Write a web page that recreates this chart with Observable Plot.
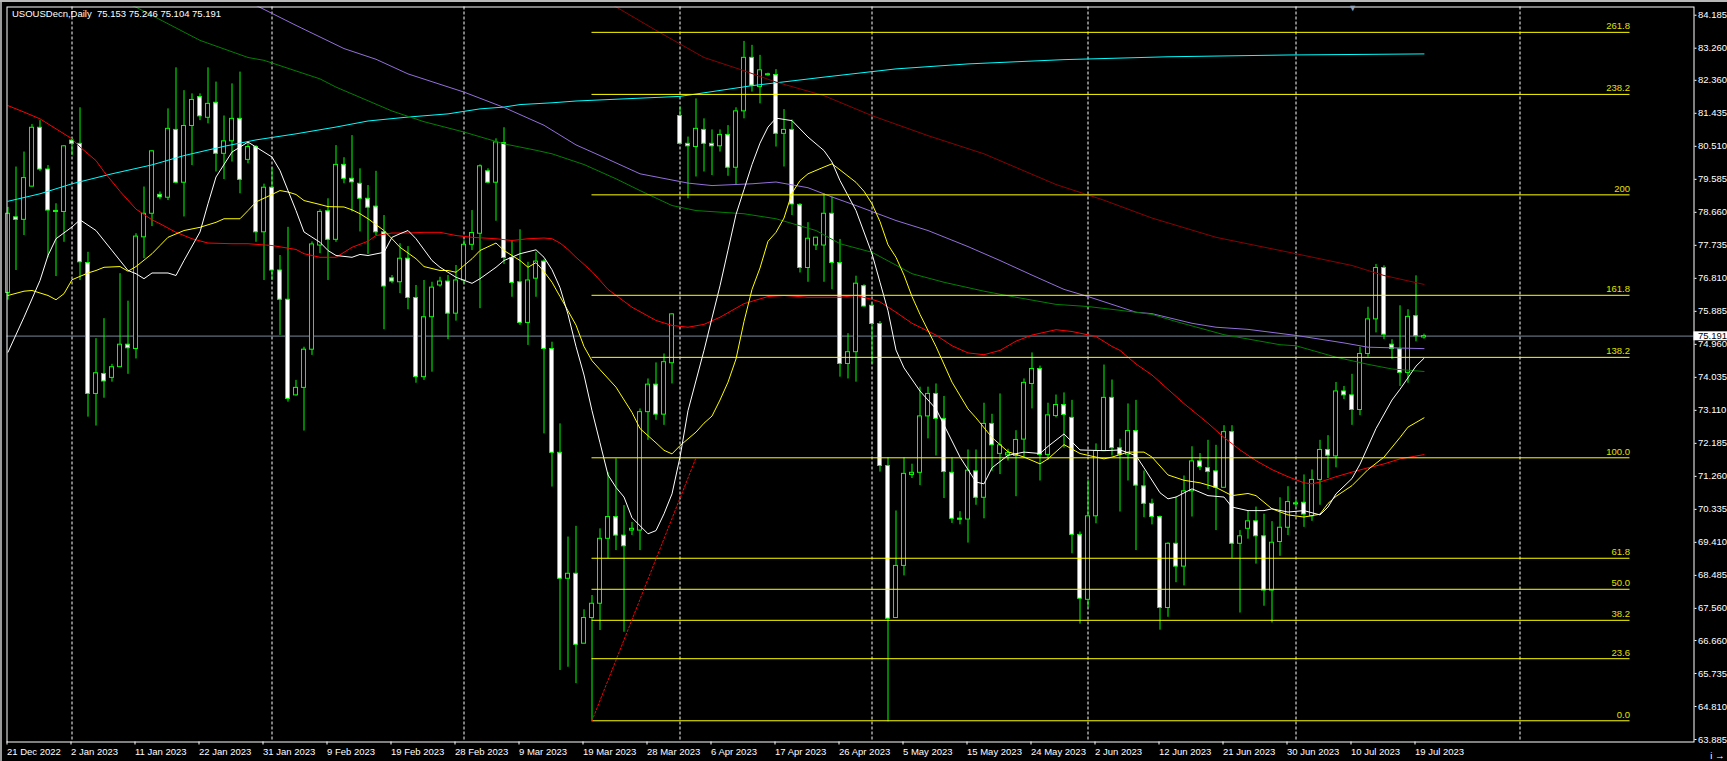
<!DOCTYPE html>
<html><head><meta charset="utf-8">
<script src="https://cdn.jsdelivr.net/npm/d3@7"></script>
<script src="https://cdn.jsdelivr.net/npm/@observablehq/plot@0.6"></script>
<style>
html,body{margin:0;padding:0;background:#000;overflow:hidden;width:1727px;height:761px}
#chart{position:absolute;left:0;top:0}
#lb{position:absolute;left:0;top:0;width:2px;height:761px;background:#9a9a9a}
#tb{position:absolute;left:0;top:0;width:1727px;height:2px;background:#b8b8b8}
</style></head><body>
<div id="chart"></div><div id="lb"></div><div id="tb"></div>
<script>
const title = "USOUSDecn,Daily\u00a0\u00a075.153 75.246 75.104 75.191";

const open = [76.40,78.52,78.45,79.38,81.03,79.86,78.69,78.67,80.67,80.58,
77.24,73.57,74.13,74.02,74.32,74.95,74.83,77.96,78.62,79.15,
79.07,80.97,79.49,81.08,81.89,81.31,81.73,80.30,80.65,81.28,
80.13,80.49,78.10,79.35,77.03,76.21,73.53,73.74,74.81,77.73,
78.69,77.89,79.99,79.60,79.46,79.04,78.82,78.10,76.81,76.70,
77.36,76.26,74.04,75.72,76.61,76.72,75.82,76.75,77.75,78.06,
79.81,79.49,80.60,77.38,76.70,75.56,76.80,77.28,74.83,71.92,
68.39,68.53,66.57,67.29,67.69,69.51,70.12,69.60,69.74,69.74,
73.06,73.83,72.99,74.43,81.36,80.58,80.49,80.97,80.58,80.51,
80.83,79.91,81.49,82.99,82.17,82.51,82.51,80.86,80.97,78.87,
77.10,77.73,77.73,78.62,77.24,74.41,74.74,76.59,76.04,75.53,
71.55,67.29,68.75,71.30,71.36,72.94,73.57,72.87,71.36,70.07,
70.05,71.40,70.66,72.73,71.89,71.85,71.83,72.29,73.85,74.27,
71.86,72.95,73.26,72.90,69.62,67.80,70.14,71.97,73.46,72.05,
71.87,72.53,70.98,70.49,70.12,67.57,69.37,68.73,70.84,71.68,
71.49,71.40,70.94,72.50,69.37,69.79,70.00,69.58,68.06,69.42,
69.82,70.48,70.52,70.14,71.16,72.00,71.82,73.64,73.53,73.12,
74.69,75.66,77.10,74.95,74.82,74.16,75.75,75.153];

const high = [78.80,79.93,80.35,81.12,81.23,79.97,78.90,80.53,80.72,81.59,
77.54,75.12,75.68,74.40,76.94,76.17,78.06,79.37,80.39,79.23,
81.56,82.71,82.07,81.98,81.98,82.71,82.31,81.36,82.26,82.59,
80.63,80.53,79.45,79.91,77.45,78.24,73.95,74.88,77.83,78.73,
79.04,80.53,80.19,80.81,79.88,79.41,79.81,78.57,76.89,77.78,
77.70,76.61,76.75,76.70,76.84,76.89,77.17,77.87,78.71,79.99,
79.88,80.72,81.03,77.87,78.17,77.26,77.54,77.33,75.02,72.73,
69.56,69.86,67.52,67.92,69.79,71.36,71.75,70.44,69.97,73.15,
73.99,74.44,74.69,75.82,81.61,80.77,81.84,81.28,80.97,80.97,
81.09,81.59,83.45,83.34,83.06,82.56,82.66,81.54,81.25,78.90,
78.37,77.96,79.18,79.09,77.90,75.26,76.87,76.63,76.08,75.60,
71.78,70.29,71.78,71.60,73.76,73.76,73.85,73.50,71.78,70.27,
72.00,72.00,73.31,73.00,73.57,72.02,72.54,73.99,74.72,74.35,
73.31,73.54,73.60,73.39,69.70,71.14,72.17,74.38,73.96,72.30,
73.29,73.39,71.41,70.62,70.15,69.40,70.68,71.27,72.09,71.90,
72.27,72.13,72.68,72.68,69.74,70.29,70.40,70.20,69.99,70.66,
70.97,70.60,71.30,71.44,72.27,72.40,73.89,73.78,74.12,74.88,
76.00,77.20,77.16,75.09,76.04,75.93,76.88,75.246];

const low = [76.20,77.03,78.01,79.37,79.80,77.40,76.86,77.82,80.25,76.75,
72.92,72.67,73.45,73.90,74.32,74.12,74.55,77.36,78.26,79.01,
78.99,79.46,78.53,79.97,81.23,81.14,79.79,79.58,80.07,79.18,
80.02,77.82,76.75,76.75,75.21,73.34,73.51,72.53,74.65,77.50,
76.75,77.82,79.46,78.67,78.11,77.48,78.01,75.37,76.66,76.38,
75.93,73.87,73.95,74.18,76.56,75.09,75.61,76.66,77.59,75.96,
79.46,78.41,77.20,76.28,75.49,74.93,76.28,72.45,70.96,65.82,
65.91,65.45,66.57,64.42,66.94,68.95,69.18,66.89,69.60,69.18,
72.27,72.83,72.69,73.85,80.58,79.04,79.65,79.79,79.69,80.35,
79.67,79.43,81.28,82.03,81.70,82.48,80.49,79.93,78.57,76.96,
76.70,77.59,76.70,76.49,74.04,73.99,73.90,76.00,74.41,71.38,
64.38,67.29,68.47,71.20,71.00,72.31,71.83,70.64,69.94,69.90,
69.39,70.45,70.07,71.40,71.31,71.69,70.69,71.77,73.15,71.13,
71.71,72.90,72.05,69.09,67.12,67.59,69.93,71.97,71.83,70.26,
71.13,69.18,70.10,69.90,66.95,67.31,68.28,68.19,70.12,71.42,
70.89,69.74,70.94,68.96,67.43,69.50,68.80,67.62,67.15,69.02,
69.60,70.40,69.83,70.00,70.45,71.20,71.50,73.41,72.69,72.96,
74.60,75.28,75.09,74.54,73.78,73.87,75.03,75.104];

const close = [78.62,78.45,79.62,81.03,79.86,78.71,78.68,80.51,80.58,77.26,
73.57,74.15,73.92,74.32,74.95,74.85,77.98,78.62,80.37,79.08,
81.00,79.49,81.08,81.81,81.35,81.70,80.30,80.65,81.28,79.57,
80.49,78.10,79.35,77.03,76.21,73.43,73.74,74.81,77.76,78.67,
77.89,79.99,79.60,79.50,79.04,78.79,78.10,76.58,76.72,77.36,
76.26,74.04,75.72,76.55,76.72,75.82,76.75,77.75,78.08,79.95,
79.49,80.62,77.38,76.68,75.56,76.75,77.28,74.83,71.92,68.39,
68.53,66.54,67.29,67.69,69.51,70.12,69.60,69.30,69.79,73.06,
73.83,72.99,74.46,75.80,80.58,80.51,81.00,80.58,80.51,80.83,
79.91,81.49,82.99,82.21,82.64,82.52,80.86,80.97,78.88,77.10,
77.92,77.95,78.62,77.24,74.41,74.74,76.66,76.02,75.53,71.55,
67.27,68.75,71.33,71.36,72.94,73.57,72.87,71.38,70.07,70.05,
71.42,70.66,72.73,72.13,72.13,71.91,72.28,73.88,74.27,71.86,
72.97,73.26,72.98,69.62,67.83,70.14,71.97,73.46,72.05,71.87,
72.53,71.00,70.49,70.12,67.57,69.37,68.73,70.84,71.68,71.52,
71.38,70.94,72.50,69.37,69.58,70.00,69.58,68.06,69.40,69.82,
70.54,70.50,70.19,71.16,72.00,71.84,73.64,73.53,73.12,74.69,
75.66,77.10,75.23,74.83,74.16,75.73,75.19,75.191];

const dateLabels = ["21 Dec 2022","2 Jan 2023","11 Jan 2023","22 Jan 2023","31 Jan 2023","9 Feb 2023","19 Feb 2023","28 Feb 2023","9 Mar 2023","19 Mar 2023","28 Mar 2023","6 Apr 2023","17 Apr 2023","26 Apr 2023","5 May 2023","15 May 2023","24 May 2023","2 Jun 2023","12 Jun 2023","21 Jun 2023","30 Jun 2023","10 Jul 2023","19 Jul 2023"];
const labelEvery = 8;
const priceTicks = [84.185,83.260,82.360,81.435,80.510,79.585,78.660,77.735,76.810,75.885,74.960,74.035,73.110,72.185,71.260,70.335,69.410,68.485,67.560,66.660,65.735,64.810,63.885];
const separators = [8,33,57,84,108,135,161,189];

const fibLevels = [0,23.6,38.2,50,61.8,100,138.2,161.8,200,238.2,261.8];
const fibLabels = ["0.0","23.6","38.2","50.0","61.8","100.0","138.2","161.8","200","238.2","261.8"];
const fibLow = 64.41, fibHigh = 71.78;
const fibStartBar = 73, fibHighBar = 86, fibEndBar = 202.75;
const bid = 75.191;

const maWhite = [[0,74.74],[2,75.72],[4,76.75],[5,77.45],[6,77.92],[8,78.25],[9,78.45],[11,78.15],[13,77.59],[15,77.03],[16,76.94],[17,76.80],[18,76.96],[20,76.96],[21,76.89],[22,77.31],[24,78.11],[25,78.90],[26,79.65],[28,80.35],[30,80.63],[31,80.49],[33,80.21],[34,79.83],[35,79.27],[36,78.71],[37,78.11],[39,77.82],[40,77.59],[41,77.45],[43,77.40],[44,77.48],[45,77.45],[47,77.54],[48,77.96],[49,78.06],[50,78.15],[51,77.92],[53,77.31],[54,77.12],[56,76.84],[58,76.67],[59,76.80],[61,77.12],[62,77.31],[64,77.50],[66,77.61],[67,77.40],[68,77.05],[69,76.55],[70,75.80],[71,74.90],[72,74.10],[73,73.10],[74,72.20],[75,71.30],[76,70.95],[77,70.68],[78,70.10],[80,69.65],[81,69.74],[82,70.21],[83,70.77],[84,71.80],[85,73.10],[87,74.79],[88,75.70],[89,76.60],[90,77.60],[91,78.60],[92,79.30],[93,80.00],[94,80.60],[95,81.05],[96,81.30],[98,81.23],[100,80.77],[102,80.39],[103,80.07],[104,79.55],[106,78.71],[108,77.50],[109,76.70],[110,75.90],[111,74.80],[112,74.30],[114,73.65],[116,73.15],[117,72.70],[119,71.80],[121,71.10],[122,71.05],[123,71.50],[125,71.85],[127,71.94],[129,71.90],[130,72.10],[132,72.45],[134,72.00],[137,71.98],[139,72.00],[141,71.84],[142,71.50],[144,70.80],[145,70.63],[146,70.68],[148,70.91],[150,70.72],[152,70.68],[153,70.40],[155,70.30],[157,70.30],[158,70.35],[160,70.26],[162,70.30],[164,70.18],[165,70.40],[166,70.77],[168,71.20],[169,71.60],[171,72.60],[173,73.40],[174,73.70],[176,74.35],[177,74.57]];

const maYellow = [[0,76.33],[2,76.45],[3,76.47],[5,76.33],[6,76.21],[7,76.38],[8,76.77],[10,76.96],[11,77.03],[12,77.12],[14,77.14],[15,77.01],[16,77.14],[18,77.50],[19,77.73],[20,77.96],[22,78.15],[24,78.24],[26,78.38],[27,78.48],[29,78.48],[30,78.71],[31,78.95],[33,79.16],[34,79.27],[35,79.23],[36,79.16],[37,78.99],[39,78.88],[40,78.82],[42,78.81],[43,78.73],[44,78.62],[45,78.48],[47,78.15],[48,77.92],[49,77.68],[51,77.36],[52,77.14],[54,77.03],[55,77.03],[56,76.98],[58,77.36],[59,77.59],[61,77.80],[62,77.59],[64,77.31],[65,77.12],[66,77.25],[67,77.00],[68,76.70],[69,76.30],[70,75.90],[71,75.50],[72,74.90],[73,74.50],[74,74.25],[76,73.76],[78,73.05],[79,72.60],[81,72.20],[82,71.99],[83,71.89],[84,72.12],[86,72.50],[87,72.75],[88,72.95],[89,73.40],[90,73.90],[91,74.55],[92,75.60],[93,76.50],[94,77.10],[95,77.85],[96,78.10],[97,78.50],[98,79.20],[99,79.55],[100,79.74],[102,79.93],[103,80.02],[104,79.85],[106,79.50],[107,79.25],[108,78.90],[109,78.40],[110,77.75],[111,77.40],[112,76.90],[113,76.30],[114,75.80],[116,74.90],[118,73.90],[120,73.15],[121,72.90],[123,72.35],[125,71.95],[127,71.80],[129,71.61],[130,71.75],[132,72.15],[134,71.90],[137,71.75],[138,71.80],[140,71.94],[142,71.94],[143,71.80],[145,71.30],[147,71.15],[149,71.08],[151,70.95],[153,70.72],[155,70.78],[156,70.72],[158,70.35],[160,70.18],[162,70.12],[164,70.20],[165,70.50],[166,70.70],[168,71.00],[170,71.45],[172,71.80],[174,72.35],[175,72.64],[177,72.90]];

const maRed = [[0,81.65],[2,81.47],[4,81.28],[6,81.00],[8,80.72],[9,80.49],[11,80.11],[12,79.80],[14,79.25],[16,78.75],[18,78.45],[19,78.34],[21,78.10],[23,77.92],[25,77.80],[28,77.78],[30,77.78],[33,77.73],[36,77.62],[37,77.50],[39,77.40],[41,77.40],[42,77.54],[43,77.68],[45,77.85],[46,78.01],[48,78.08],[50,78.08],[52,78.10],[54,78.10],[56,78.01],[58,77.96],[61,77.92],[63,77.87],[65,77.92],[67,77.94],[68,77.92],[69,77.80],[70,77.62],[71,77.40],[73,77.00],[75,76.50],[78,76.00],[81,75.63],[83,75.49],[85,75.44],[87,75.52],[89,75.72],[92,76.10],[95,76.30],[97,76.33],[100,76.28],[104,76.28],[106,76.33],[108,76.22],[109,76.15],[111,75.86],[113,75.55],[116,75.22],[118,74.92],[120,74.72],[122,74.67],[124,74.79],[126,75.05],[128,75.22],[131,75.37],[133,75.32],[136,75.18],[138,74.90],[139,74.79],[141,74.41],[143,74.10],[145,73.70],[147,73.30],[150,72.75],[152,72.35],[154,72.00],[156,71.70],[158,71.45],[160,71.25],[162,71.08],[163,71.05],[164,71.10],[166,71.25],[168,71.38],[170,71.50],[172,71.61],[174,71.75],[177,71.87]];

const maGreen = [[14,84.60],[16,84.41],[24,83.48],[30,83.00],[32,82.92],[39,82.40],[41,82.17],[48,81.50],[52,81.20],[57,80.91],[62,80.58],[66,80.40],[68,80.30],[72,80.00],[76,79.60],[79,79.27],[83,78.85],[86,78.71],[92,78.62],[96,78.48],[101,78.15],[104,77.78],[108,77.54],[113,76.94],[117,76.70],[122,76.45],[126,76.28],[131,76.08],[135,76.02],[141,75.86],[143,75.80],[146,75.60],[152,75.23],[159,74.95],[161,74.92],[166,74.60],[170,74.40],[173,74.27],[177,74.20]];

const maPurple = [[29,84.60],[31,84.46],[36,83.90],[42,83.25],[46,82.95],[50,82.54],[57,82.03],[62,81.60],[67,81.10],[71,80.55],[74,80.25],[79,79.74],[85,79.48],[88,79.41],[93,79.46],[96,79.51],[100,79.35],[103,79.09],[106,78.85],[111,78.43],[115,78.15],[120,77.70],[124,77.31],[128,76.90],[132,76.50],[135,76.30],[141,75.86],[143,75.82],[148,75.55],[151,75.44],[155,75.38],[161,75.21],[167,75.00],[170,74.88],[177,74.84]];

const maMaroon = [[75,84.55],[81,83.76],[87,83.00],[92,82.63],[96,82.31],[102,81.93],[108,81.37],[115,80.81],[122,80.30],[131,79.44],[137,79.00],[143,78.50],[151,77.96],[161,77.50],[168,77.17],[172,76.89],[177,76.64]];

const maCyan = [[0,78.97],[4,79.18],[8,79.46],[13,79.74],[18,79.99],[22,80.25],[27,80.51],[31,80.69],[36,80.86],[41,81.05],[45,81.22],[50,81.33],[55,81.42],[59,81.56],[62,81.61],[64,81.68],[68,81.73],[71,81.78],[84,81.91],[93,82.21],[102,82.45],[111,82.68],[120,82.82],[132,82.94],[145,83.02],[160,83.07],[177,83.10]];

// ---- build ----
const candles = open.map((o, i) => ({i, o, h: high[i], l: low[i], c: close[i]}));
const bodyLo = d => Math.abs(d.o - d.c) < 0.03 ? (d.o + d.c) / 2 - 0.015 : Math.min(d.o, d.c);
const bodyHi = d => Math.abs(d.o - d.c) < 0.03 ? (d.o + d.c) / 2 + 0.015 : Math.max(d.o, d.c);
const fib = fibLevels.map((p, k) => ({price: fibLow + p / 100 * (fibHigh - fibLow), label: fibLabels[k]}));
const tickBars = dateLabels.map((_, k) => k * labelEvery);
const ln = (data, color) => Plot.line(data, {x: d => d[0], y: d => d[1], stroke: color, strokeWidth: 1, clip: true});

const FONT = "Tahoma, 'Liberation Sans', Arial, sans-serif";
const chart = Plot.plot({
  width: 1727, height: 761,
  marginLeft: 6.5, marginRight: 33.5, marginTop: 6.5, marginBottom: 19.5,
  x: {type: "linear", domain: [-0.125, 210.75]},
  y: {domain: [63.815, 84.415]},
  style: {background: "#000", color: "#fff", fontFamily: FONT, fontSize: "9.5px"},
  marks: [
    Plot.ruleX(separators, {stroke: "white", strokeDasharray: "3,2", strokeWidth: 1}),
    Plot.ruleY([bid], {stroke: "#778899"}),
    Plot.ruleX(candles, {x: "i", y1: "l", y2: "h", stroke: "#00ff00", strokeWidth: 1}),
    Plot.rect(candles, {x1: d => d.i - 0.25, x2: d => d.i + 0.25, y1: bodyLo, y2: bodyHi,
      fill: d => d.c < d.o ? "#ffffff" : "#000000", stroke: "#00ff00", strokeWidth: 1}),
    ln(maCyan, "#00ffff"),
    ln(maMaroon, "#8b0000"),
    ln(maPurple, "#9370db"),
    ln(maGreen, "#008000"),
    ln(maRed, "#ff0000"),
    ln(maYellow, "#ffff00"),
    ln(maWhite, "#ffffff"),
    Plot.ruleY(fib, {y: "price", x1: fibStartBar, x2: fibEndBar, stroke: "#ffff00", strokeWidth: 1}),
    Plot.text(fib, {x: fibEndBar, y: "price", text: "label", textAnchor: "end", lineAnchor: "bottom", dy: -3, fill: "#e0e000", fontSize: 9.5}),
    Plot.line([[fibStartBar, fibLow], [fibHighBar, fibHigh]], {x: d => d[0], y: d => d[1], stroke: "#ff0000", strokeDasharray: "2,2", strokeWidth: 1}),
    Plot.frame({stroke: "white"}),
    Plot.axisY(priceTicks, {anchor: "right", tickSize: 2, tickPadding: 2, tickFormat: d => d.toFixed(3), fontSize: 9.5}),
    Plot.axisX(tickBars, {anchor: "bottom", tickSize: 3, tickPadding: 3, tickFormat: d => dateLabels[d / labelEvery], textAnchor: "start", dx: -1, fontSize: 9.5}),
    Plot.rect([bid], {x1: 210.75, x2: 215.5, y1: d => d - 0.13, y2: d => d + 0.12, fill: "white"}),
    Plot.text([bid], {x: 210.75, y: d => d, text: d => d.toFixed(3), textAnchor: "start", dx: 4, fill: "black", fontSize: 9.5}),
    Plot.text(["\u25BC"], {x: 168.1, frameAnchor: "top", text: d => d, lineAnchor: "top", dy: -2, fill: "#8fa3b8", fontSize: 9}),
    Plot.text([title], {frameAnchor: "top-left", text: d => d, dx: 5, dy: 3, textAnchor: "start", lineAnchor: "top", fill: "white", fontSize: 9.5})
  ]
});
document.getElementById("chart").appendChild(chart);
</script>
</body></html>
